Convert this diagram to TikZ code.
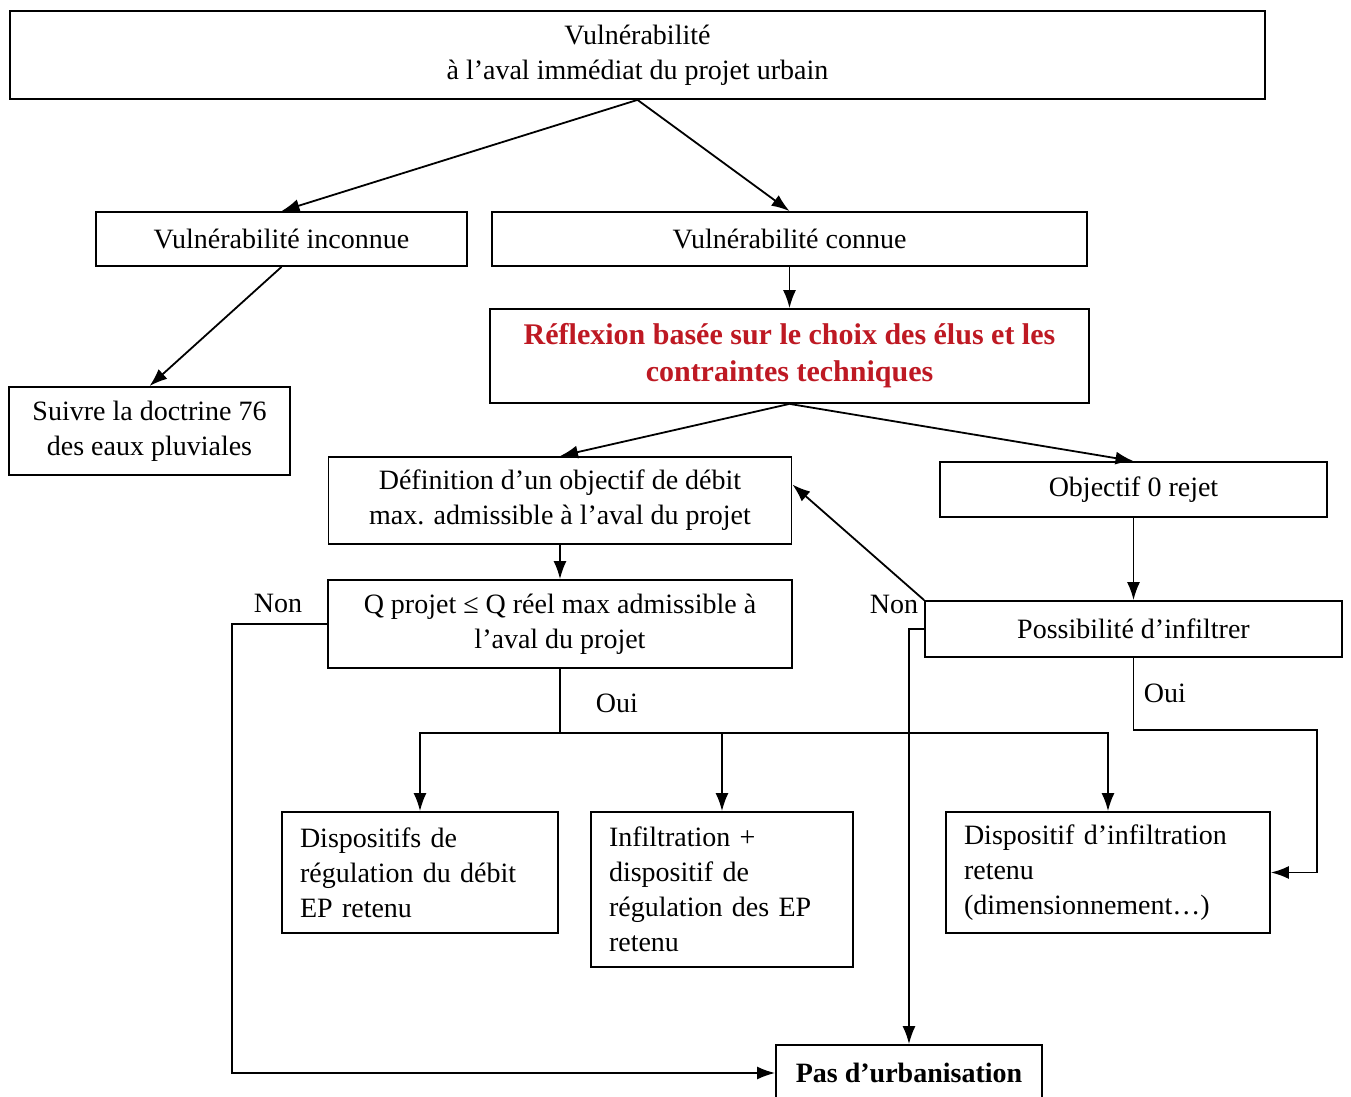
\documentclass[tikz,border=0pt]{standalone}
\usepackage{fontspec}
\setmainfont{Liberation Serif}
\usetikzlibrary{arrows.meta}
\definecolor{rougetitre}{RGB}{190,25,35}
\begin{document}
\begin{tikzpicture}[x=0.5pt,y=-0.5pt,line width=0.9pt,
  font=\fontsize{14}{17.5}\selectfont,
  boite/.style={draw,align=center,inner sep=0pt},
  boitegauche/.style={draw,align=left,inner xsep=9pt,inner ysep=0pt},
  fleche/.style={-{Latex[length=9pt,width=6.5pt]}},
  etiq/.style={inner sep=0pt}]
\useasboundingbox[fill=white] (0,0) rectangle (1351,1097);
\clip (0,0) rectangle (1351,1097);
\node[boite,minimum width=627.5pt,minimum height=44pt] (haut) at (637.5,55) {Vulnérabilité\\à l’aval immédiat du projet urbain};
\node[boite,minimum width=185.5pt,minimum height=27pt] (inconnue) at (281.5,239) {Vulnérabilité inconnue};
\node[boite,minimum width=297.5pt,minimum height=27pt] (connue) at (789.5,239) {Vulnérabilité connue};
\node[boite,minimum width=140.5pt,minimum height=44pt] (doctrine) at (149.5,431) {Suivre la doctrine 76\\des eaux pluviales};
\node[boite,minimum width=299.5pt,minimum height=47pt,text=rougetitre,font=\fontsize{15}{18.5}\selectfont\bfseries] (reflexion) at (789.5,356) {Réflexion basée sur le choix des élus et les\\contraintes techniques};
\node[boite,minimum width=231.5pt,minimum height=43.5pt] (definition) at (560,500.5) {Définition d’un objectif de débit\\max. admissible à l’aval du projet};
\node[boite,minimum width=193.5pt,minimum height=27.5pt] (rejet) at (1133.5,489.5) {Objectif 0 rejet};
\node[boite,minimum width=232pt,minimum height=44pt] (qprojet) at (560,624) {Q projet ≤ Q réel max admissible à\\l’aval du projet};
\node[boite,minimum width=208.5pt,minimum height=28pt] (possibilite) at (1133.5,629) {Possibilité d’infiltrer};
\node[boitegauche,text width=120pt,minimum height=60.5pt] (regulation) at (420,872.5) {Dispositifs de\\régulation du débit\\EP retenu};
\node[boitegauche,text width=113pt,minimum height=77.5pt] (infiltreg) at (722,889.5) {Infiltration +\\dispositif de\\régulation des EP\\retenu};
\node[boitegauche,text width=144pt,minimum height=60.5pt] (infiltdisp) at (1108,872.5) {Dispositif d’infiltration\\retenu\\(dimensionnement…)};
\node[boite,minimum width=133pt,minimum height=28pt,font=\fontsize{14}{17.5}\selectfont\bfseries] (pasurba) at (909,1073) {Pas d’urbanisation};
\node[etiq] (non1) at (278,603) {Non};
\node[etiq,anchor=east] (non2) at (919,604) {Non};
\node[etiq,anchor=west] (oui1) at (595,703) {Oui};
\node[etiq,anchor=west] (oui2) at (1143,693) {Oui};
\coordinate (bus) at (560,733);
\coordinate (coude) at (1317,730);
\draw[fleche] (haut.south) -- (inconnue.north);
\draw[fleche] (haut.south) -- (connue.north);
\draw[fleche] (inconnue.south) -- (doctrine.north);
\draw[fleche] (connue.south) -- (reflexion.north);
\draw[fleche] (reflexion.south) -- (definition.north);
\draw[fleche] (reflexion.south) -- (rejet.north);
\draw[fleche] (definition.south) -- (qprojet.north);
\draw[fleche] (rejet.south) -- (possibilite.north);
\draw[fleche] (possibilite.north west) -- ([yshift=8pt]definition.east);
\draw[fleche] (possibilite.west) -| (pasurba.north);
\draw[fleche] (qprojet.west) -- ++(-95,0) |- (pasurba.west);
\draw (qprojet.south) -- (bus);
\draw[fleche] (bus) -| (regulation.north);
\draw[fleche] (bus) -| (infiltreg.north);
\draw[fleche] (bus) -| (infiltdisp.north);
\draw[fleche] (possibilite.south) |- (coude) |- (infiltdisp.east);
\end{tikzpicture}
\end{document}
